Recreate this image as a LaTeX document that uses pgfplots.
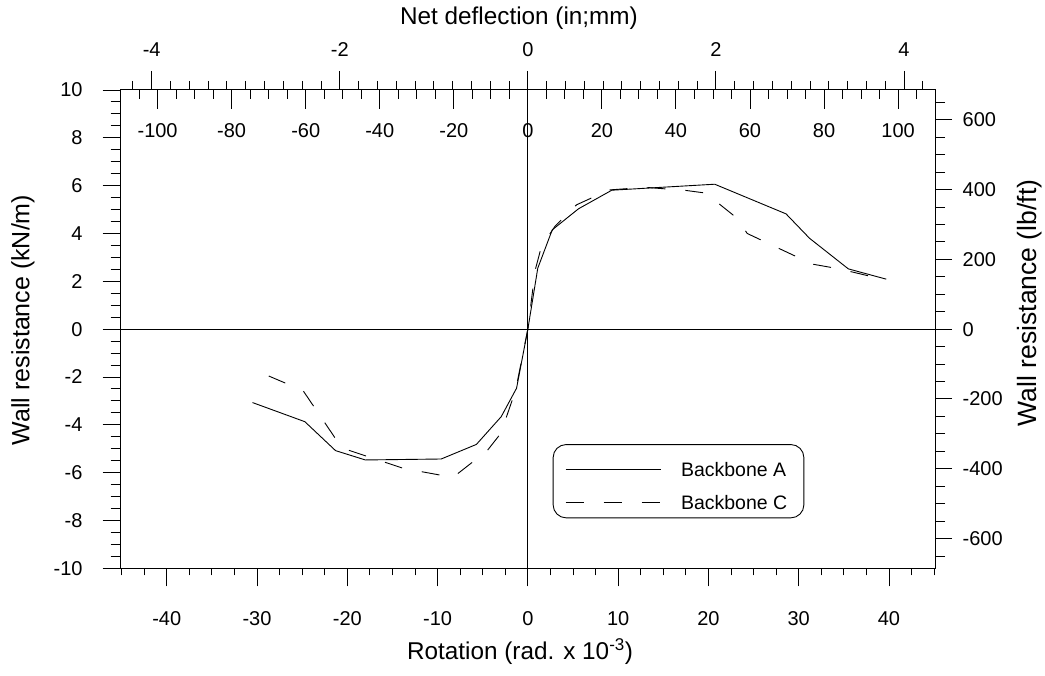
\documentclass[border=0pt]{standalone}
\usepackage{fontspec}
\setmainfont{Liberation Sans}
\usepackage{pgfplots}
\pgfplotsset{compat=1.18}
\pgfplotsset{
  base/.style={
    scale only axis, width=814.3pt, height=478.3pt,
    at={(0pt,0pt)}, anchor=south west,
    clip=false,
    /pgf/number format/assume math mode=true,
    tick label style={font=\fontsize{20}{24}\selectfont, inner sep=0pt},
    label style={font=\fontsize{24.3}{29}\selectfont},
    every tick/.style={black, line width=0.9pt},
    axis line style={line width=1.0pt},
  },
  over/.style={base, axis line style={draw=none}},
}
\begin{document}
\begin{tikzpicture}
\path[use as bounding box] (-120.7pt,-107.7pt) rectangle (924.3pt,568.3pt);
% main axis: data, frame, bottom ticks
\begin{axis}[base,
  xmin=-45.1, xmax=45.1, ymin=-10, ymax=10,
  xtick={-40,-30,...,40}, minor xtick={-45,-42.5,...,45},
  xtick pos=left, ytick=\empty, tick align=outside,
  major tick length=18pt, minor tick length=7pt,
  xticklabel style={anchor=north, yshift=-25.4pt},
  xlabel={Rotation (rad. x 10\textsuperscript{-3})},
  xlabel style={at={(axis description cs:0.4904,0)}, anchor=base, yshift=-91.7pt},
  legend cell align=left,
  legend image code/.code={\draw[#1] (0pt,0pt) -- (95pt,0pt);},
  legend style={draw=black, line width=0.9pt, rounded corners=13pt, fill=white,
    at={(0.5305,0.1045)}, anchor=south west,
    inner xsep=12pt, inner ysep=3.35pt, row sep=0pt, column sep=20pt,
    font=\fontsize{19.5}{23}\selectfont, nodes={inner sep=0pt}},
]
\addplot[black, line width=0.9pt, forget plot] coordinates {(0,-10) (0,10)};
\addplot[black, line width=0.9pt, forget plot] coordinates {(-45.1,0) (45.1,0)};
\addplot[black, line width=0.9pt] coordinates {
(-30.5,-3.07) (-24.7,-3.87) (-21.3,-5.08) (-18.0,-5.47) (-9.6,-5.43) (-5.7,-4.82)
(-2.95,-3.66) (-1.25,-2.47) (0,0) (1.1,2.55) (2.7,4.15) (5.6,5.03) (9.3,5.81)
(20.7,6.06) (28.6,4.82) (31.2,3.80) (35.5,2.52) (39.7,2.09)};
\addlegendentry[text height=28.65pt, text depth=14.65pt]{Backbone A\hspace*{4.6pt}}
\addplot[black, line width=0.9pt, dash pattern=on 18pt off 20pt] coordinates {
(-28.7,-1.96) (-24.9,-2.57) (-20.6,-4.97) (-13.8,-5.82) (-8.3,-6.2) (-4.5,-5.08)
(-3.0,-4.36) (-1.35,-2.55) (0,0) (0.8,2.45) (1.5,3.45) (3.0,4.3) (5.4,5.2)
(9.0,5.82) (13,5.93) (17.5,5.8) (19.7,5.69) (23.2,4.63) (24.3,4.0) (31.5,2.72)
(34.5,2.52) (39.7,2.05)};
\addlegendentry[text height=18.65pt, text depth=4.65pt]{Backbone C\hspace*{4.6pt}}
\end{axis}
% left axis ticks (kN/m)
\begin{axis}[over,
  xmin=-45.1, xmax=45.1, ymin=-10, ymax=10,
  xtick=\empty, ytick={-10,-8,...,10}, minor ytick={-10,-9.5,...,10},
  ytick pos=left, tick align=outside,
  major tick length=18pt, minor tick length=10pt,
  yticklabel style={anchor=east, xshift=-20pt},
  ylabel={Wall resistance (kN/m)},
  ylabel style={at={(axis description cs:-0.11998,0.519)}, anchor=center,
    font=\fontsize{25}{30}\selectfont},
]
\end{axis}
% right axis ticks (lb/ft)
\begin{axis}[over,
  xmin=-45.1, xmax=45.1, ymin=-685.2, ymax=685.2,
  xtick=\empty, ytick={-600,-400,...,600}, minor ytick={-650,-600,...,650},
  ytick pos=right, yticklabel pos=right, tick align=outside,
  major tick length=17pt, minor tick length=10pt,
  yticklabel style={anchor=west, xshift=10.5pt},
  ylabel={Wall resistance (lb/ft)},
  ylabel style={at={(axis description cs:1.11666,0.5547)}, anchor=center,
    font=\fontsize{26.5}{31}\selectfont},
]
\end{axis}
% top axis, inches
\begin{axis}[over,
  xmin=-4.3296, xmax=4.3296, ymin=0, ymax=1,
  ytick=\empty, xtick={-4,-2,0,2,4},
  minor xtick={-4.2,-4,-3.8,-3.6,-3.4,-3.2,-3,-2.8,-2.6,-2.4,-2.2,-2,-1.8,-1.6,-1.4,-1.2,-1,-0.8,-0.6,-0.4,-0.2,0,0.2,0.4,0.6,0.8,1,1.2,1.4,1.6,1.8,2,2.2,2.4,2.6,2.8,3,3.2,3.4,3.6,3.8,4,4.2},
  xtick pos=right, xticklabel pos=right, tick align=outside,
  major tick length=19pt, minor tick length=9pt,
  xticklabel style={anchor=south, yshift=14.3pt},
  xlabel={Net deflection (in;mm)},
  xlabel style={at={(axis description cs:0.4891,1)}, anchor=base, yshift=65pt},
]
\end{axis}
% top axis, mm
\begin{axis}[over,
  xmin=-109.97, xmax=109.97, ymin=0, ymax=1,
  ytick=\empty, xtick={-100,-80,...,100}, minor xtick={-105,-100,...,105},
  xtick pos=right, xticklabel pos=right, tick align=inside,
  major tick length=19pt, minor tick length=9pt,
  xticklabel style={anchor=north, yshift=-33pt},
]
\end{axis}
\end{tikzpicture}
\end{document}
